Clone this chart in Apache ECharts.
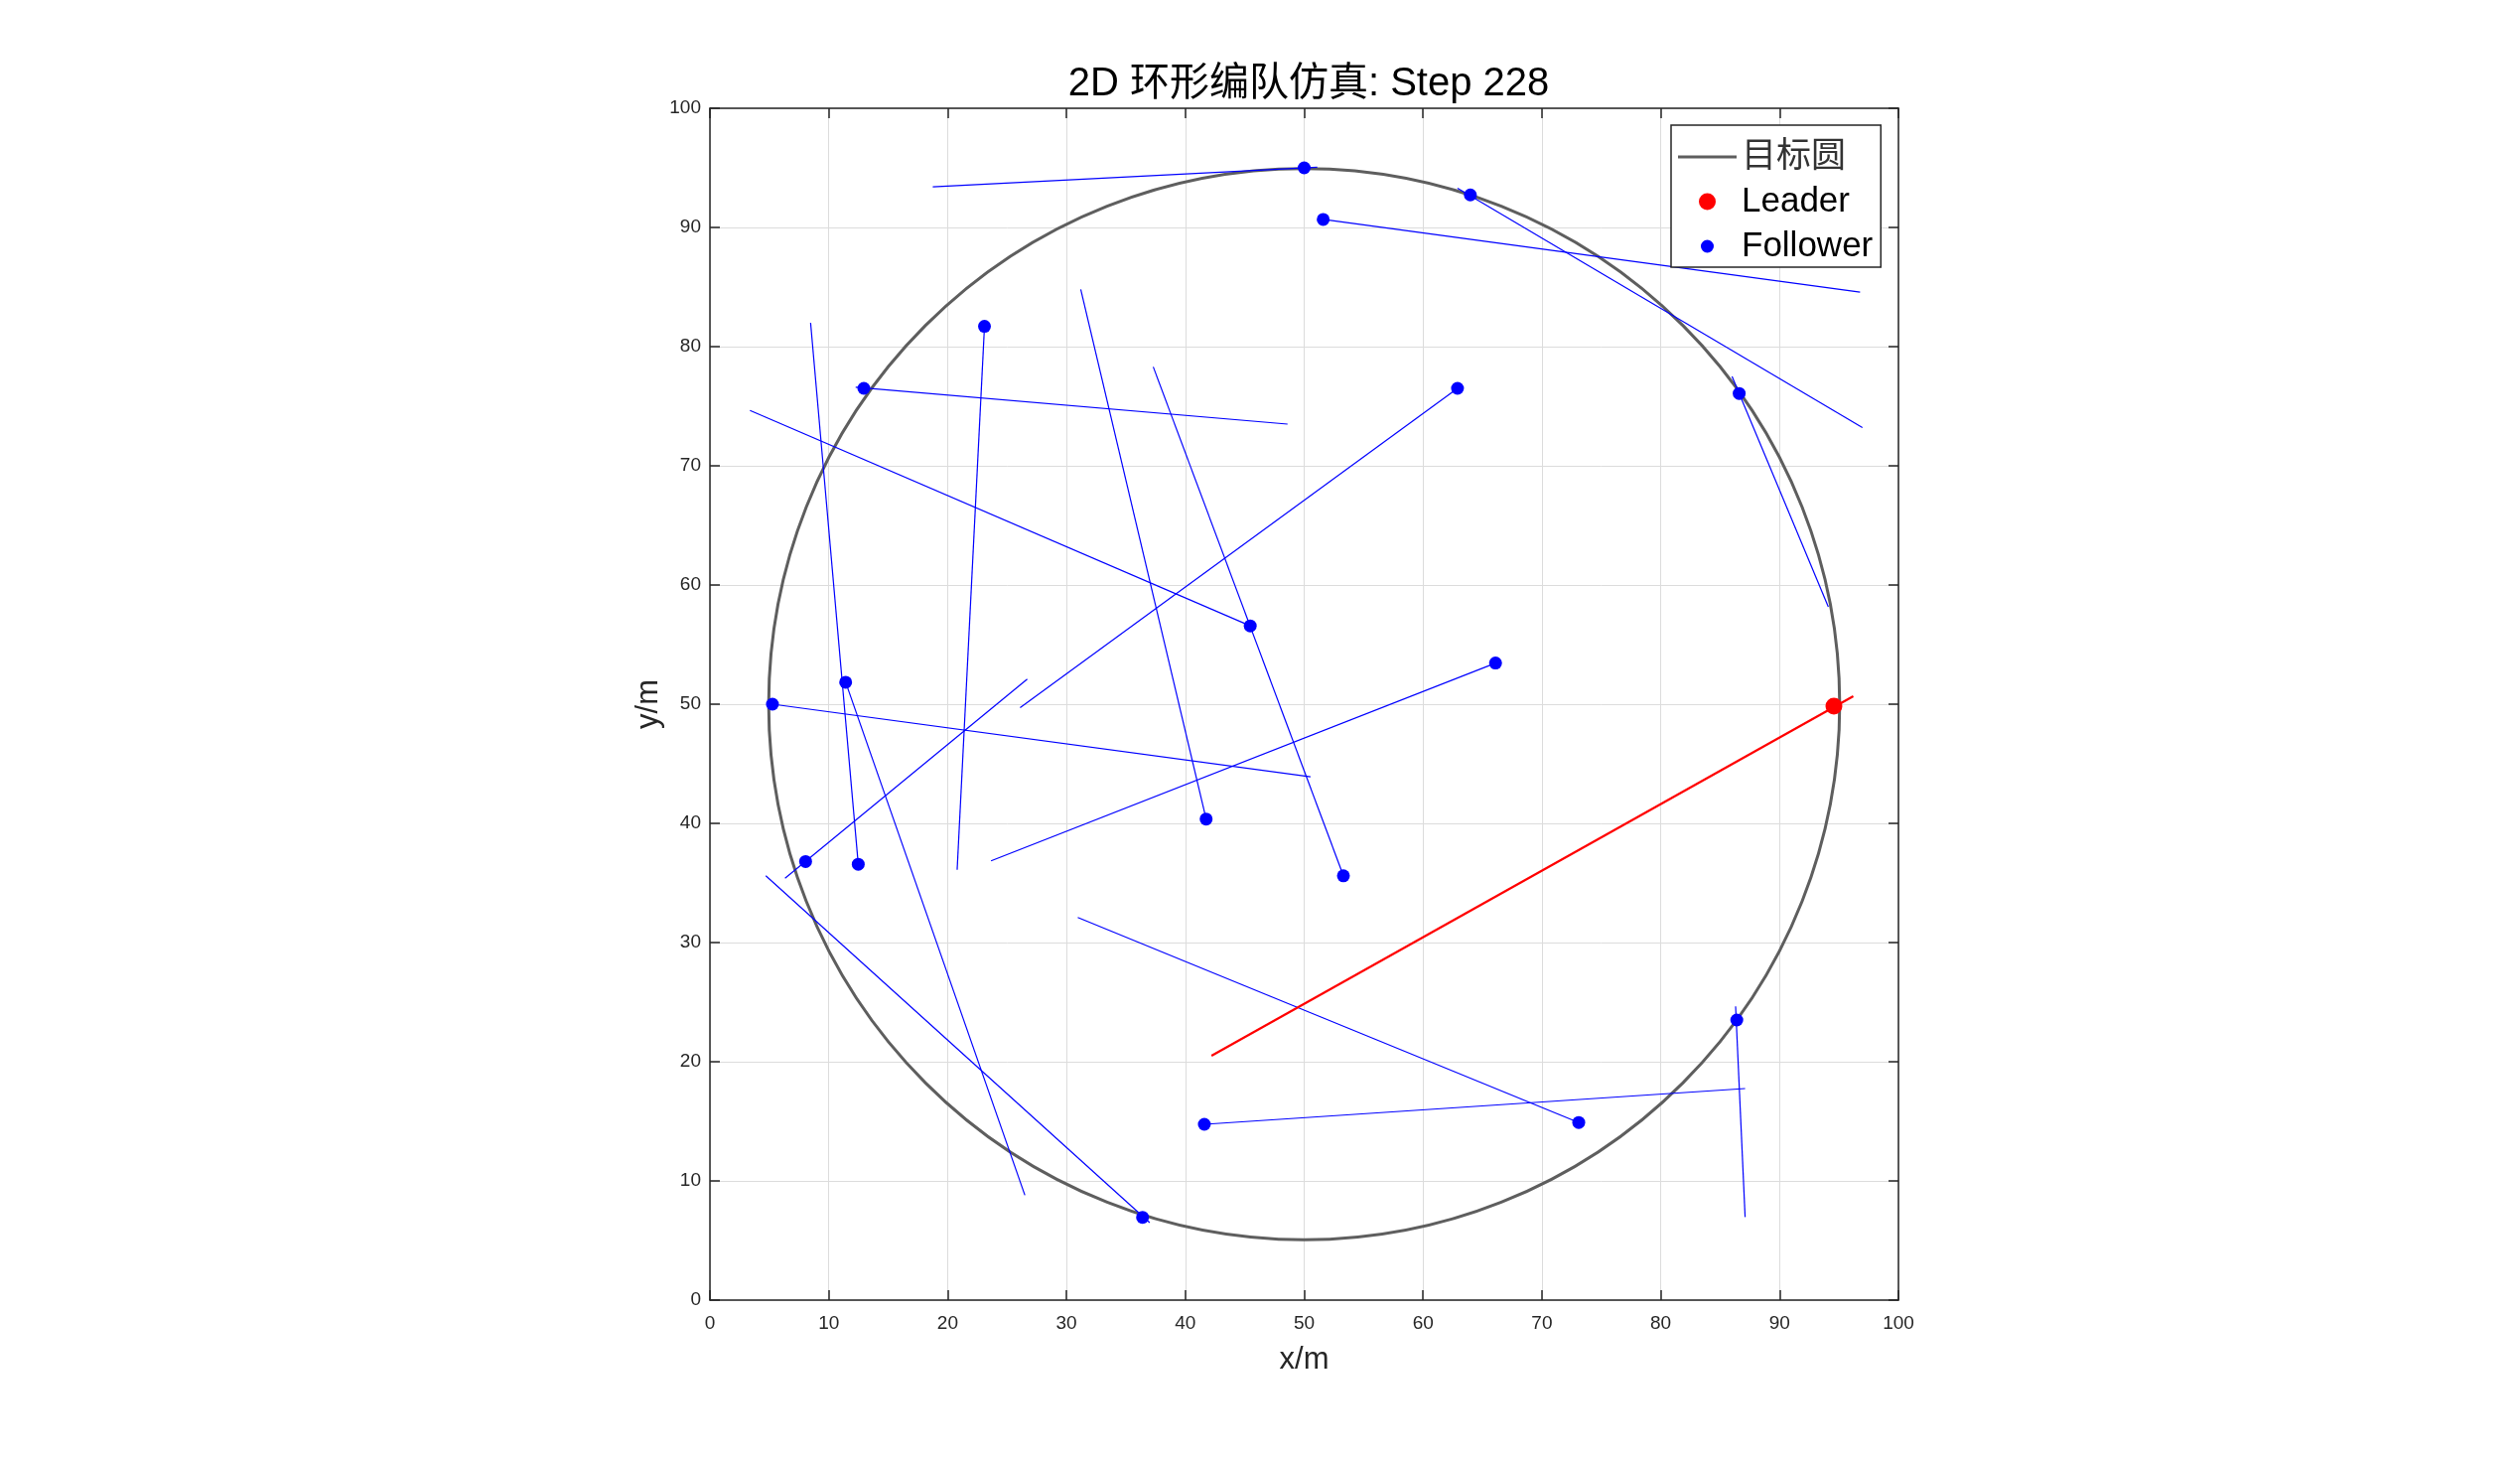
<!DOCTYPE html>
<html>
<head>
<meta charset="utf-8">
<title>2D 环形编队仿真</title>
<script src="https://cdn.jsdelivr.net/npm/echarts@6/dist/echarts.min.js"></script>
<style>
  html, body { margin: 0; padding: 0; background: #fff; }
  #chart { width: 2538px; height: 1470px; }
</style>
</head>
<body>
<div id="chart"></div>
<script>
// 目标圆
var circleCenter = [50, 50];
var circleRadius = 45;

// Leader 当前位置与轨迹
var leaderPos = [94.57, 49.83];
var leaderTrailFrom = [42.2, 20.5];
var leaderTrailTo = [96.2, 50.67];

// Follower 当前位置
var followerX = [50.0, 51.6, 63.98, 86.6, 23.1, 12.95, 62.9, 45.46, 66.1, 11.42,
                 5.26, 41.75, 53.3, 8.05, 12.48, 36.4, 73.1, 41.6, 86.4];
var followerY = [95.0, 90.67, 92.73, 76.07, 81.7, 76.5, 76.5, 56.57, 53.45, 51.84,
                 50.0, 40.36, 35.6, 36.8, 36.57, 6.94, 14.9, 14.75, 23.5];

// Follower 轨迹线端点
var trailFromX = [18.75, 51.6, 62.9, 86.0, 23.1, 12.26, 62.9, 45.46, 66.1, 11.42,
                  5.26, 41.75, 53.3, 6.32, 12.48, 37.0, 73.1, 41.6, 86.3];
var trailFromY = [93.4, 90.67, 93.3, 77.5, 81.7, 76.6, 76.5, 56.57, 53.45, 51.84,
                  50.0, 40.36, 35.6, 35.4, 36.57, 6.5, 14.9, 14.75, 24.65];
var trailToX = [51.1, 96.77, 96.97, 94.1, 20.8, 48.6, 26.1, 3.37, 23.65, 26.5,
                50.53, 31.2, 37.3, 26.7, 8.47, 4.7, 30.95, 87.1, 87.1];
var trailToY = [95.05, 84.57, 73.2, 58.16, 36.1, 73.5, 49.7, 74.65, 36.85, 8.8,
                43.9, 84.8, 78.3, 52.1, 82.0, 35.6, 32.1, 17.75, 6.97];

// 坐标轴刻度
var axisMin = 0, axisMax = 100, axisStep = 10;
var titleText = '2D 环形编队仿真: Step 228';

var fontFam = '"Liberation Sans", Arial, "Noto Sans CJK SC", sans-serif';

var followerPts = followerX.map(function (x, i) { return [x, followerY[i]]; });
var trailData = trailFromX.map(function (x, i) {
  return { coords: [[x, trailFromY[i]], [trailToX[i], trailToY[i]]] };
});

function makeAxis(pos, showLabel, isX) {
  return {
    type: 'value',
    position: pos,
    min: axisMin, max: axisMax, interval: axisStep,
    axisLine: { show: true, onZero: false, lineStyle: { color: '#262626', width: 1.5 } },
    axisTick: { show: true, inside: true, length: 10, lineStyle: { color: '#262626', width: 1.5 } },
    axisLabel: { show: showLabel, color: '#262626', fontSize: 19, fontFamily: fontFam, margin: isX ? 14 : 9 },
    splitLine: { show: showLabel, lineStyle: { color: '#dcdcdc', width: 1 } }
  };
}

var xMain = makeAxis('bottom', true, true);
xMain.name = 'x/m';
xMain.nameLocation = 'middle';
xMain.nameGap = 45;
xMain.nameTextStyle = { fontSize: 31, color: '#262626', fontFamily: fontFam };

var yMain = makeAxis('left', true, false);
yMain.name = 'y/m';
yMain.nameLocation = 'middle';
yMain.nameGap = 46;
yMain.nameTextStyle = { fontSize: 31, color: '#262626', fontFamily: fontFam };

var chart = echarts.init(document.getElementById('chart'));
var option = {
  animation: false,
  backgroundColor: '#ffffff',
  title: {
    text: titleText,
    left: 1313, top: 60,
    textAlign: 'center',
    textStyle: { fontSize: 40, fontWeight: 'normal', color: '#000', fontFamily: fontFam }
  },
  grid: { left: 715, top: 109, width: 1197, height: 1200 },
  xAxis: [xMain, makeAxis('top', false, true)],
  yAxis: [yMain, makeAxis('right', false, false)],
  legend: {
    orient: 'vertical',
    left: 1683, top: 126,
    padding: [14, 8, 3, 7],
    itemWidth: 59, itemHeight: 17,
    itemGap: 9,
    backgroundColor: '#fff',
    borderColor: '#262626', borderWidth: 1.5, borderRadius: 0,
    selectedMode: false,
    textStyle: { fontSize: 35, lineHeight: 36, color: '#000', fontFamily: fontFam },
    data: [
      { name: '目标圆', icon: 'path://M0,0L59,0L59,3L0,3Z', textStyle: { color: '#333' } },
      { name: 'Leader', icon: 'circle' },
      { name: 'Follower', icon: 'path://M0,0M17,17M8.5,2A6.5,6.5,0,1,1,8.49,2Z' }
    ]
  },
  series: [
    {
      name: '目标圆',
      type: 'custom',
      xAxisIndex: 0, yAxisIndex: 0,
      itemStyle: { color: '#5e5e5e' },
      data: [[circleCenter[0], circleCenter[1], circleRadius]],
      renderItem: function (params, api) {
        var c = api.coord([api.value(0), api.value(1)]);
        var s = api.size([api.value(2), api.value(2)]);
        return {
          type: 'circle',
          shape: { cx: c[0], cy: c[1], r: (s[0] + s[1]) / 2 },
          style: { fill: 'none', stroke: '#5e5e5e', lineWidth: 3 }
        };
      },
      z: 1
    },
    {
      name: 'trails',
      type: 'lines',
      coordinateSystem: 'cartesian2d',
      xAxisIndex: 0, yAxisIndex: 0,
      lineStyle: { color: '#0000ff', width: 1.2, opacity: 1 },
      data: trailData,
      silent: true,
      z: 2
    },
    {
      name: 'leaderTrail',
      type: 'lines',
      coordinateSystem: 'cartesian2d',
      xAxisIndex: 0, yAxisIndex: 0,
      lineStyle: { color: '#ff0000', width: 2.2, opacity: 1 },
      data: [{ coords: [leaderTrailFrom, leaderTrailTo] }],
      silent: true,
      z: 2
    },
    {
      name: 'Follower',
      type: 'scatter',
      xAxisIndex: 0, yAxisIndex: 0,
      symbol: 'circle', symbolSize: 13,
      itemStyle: { color: '#0000ff', opacity: 1 },
      data: followerPts,
      z: 3
    },
    {
      name: 'Leader',
      type: 'scatter',
      xAxisIndex: 0, yAxisIndex: 0,
      symbol: 'circle', symbolSize: 17,
      itemStyle: { color: '#ff0000', opacity: 1 },
      data: [leaderPos],
      z: 4
    }
  ]
};
chart.setOption(option);
</script>
</body>
</html>
